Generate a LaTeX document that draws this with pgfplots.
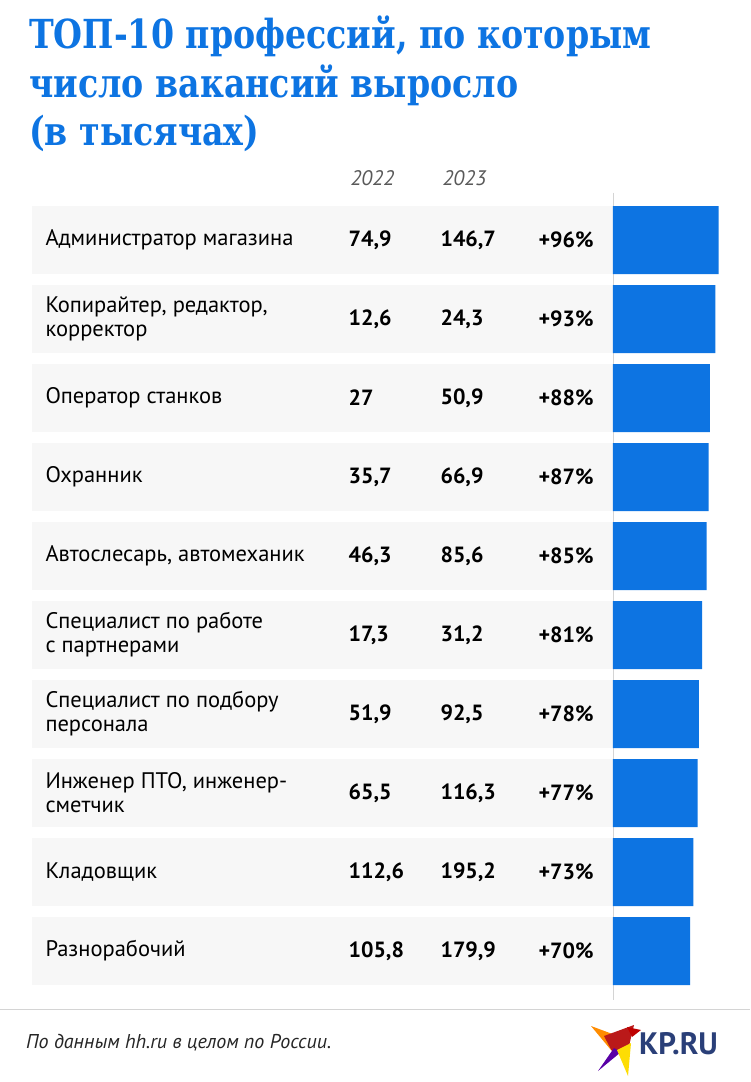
\documentclass[border=0pt]{standalone}
\usepackage{fontspec}
\setmainfont{PT Sans}
\newfontfamily\titlefont[FakeStretch=0.83,UprightFont={DejaVu Serif Bold},BoldFont={DejaVu Serif Bold}]{DejaVu Serif}
\usepackage{pgfplots}
\pgfplotsset{compat=1.18}
\definecolor{kpblue}{HTML}{0D74E2}
\definecolor{rowgray}{HTML}{F7F7F7}
\definecolor{kpnavy}{HTML}{2A3F78}
\definecolor{linegray}{HTML}{D4D4D4}
\begin{document}
\begin{tikzpicture}
\path[use as bounding box, fill=white] (0pt,0pt) rectangle (750pt,-1082pt);
\begin{scope}[x=1pt,y=-1pt]
% title
\node[anchor=north west, align=left, inner sep=0pt, text=kpblue,
      font=\titlefont\fontsize{40}{48.5}\selectfont] at (29,16)
  {ТОП-10 профессий, по которым\\число вакансий выросло\\(в тысячах)};
% footer
\draw[linegray, line width=0.8pt] (0,1009) -- (750,1009);
\node[anchor=west, inner sep=0pt, text=black!85,
      font=\itshape\fontsize{20}{22}\selectfont] at (26,1043)
  {По данным hh.ru в целом по России.};
% logo
\fill[orange!90!yellow] (591,1026) -- (626,1039) -- (611,1050) -- cycle;
\fill[red!70!black!90] (604,1036) -- (634,1025) -- (629,1046) -- (614,1055) -- cycle;
\fill[red!75!black] (627,1027) -- (641,1030) -- (632,1037) -- cycle;
\fill[violet!70!blue] (614,1048) -- (598,1071) -- (621,1052) -- cycle;
\fill[yellow!80!orange] (617,1050) -- (631,1043) -- (628,1076) -- cycle;
\node[anchor=west, inner sep=0pt, text=kpnavy,
      font=\bfseries\fontsize{31}{32}\selectfont] at (639,1044) {KP.RU};
\end{scope}
\begin{axis}[
  at={(613pt,-990.5pt)}, anchor=south west,
  scale only axis, width=137.5pt, height=790pt,
  xmin=0, xmax=125, ymin=0.5, ymax=10.5, y dir=reverse,
  hide axis, clip=false,
  xbar, bar width=68pt,
  every node/.style={inner sep=0pt},
]
\pgfplotsinvokeforeach{1,...,10}{
  \fill[rowgray] (axis cs:-528.2,#1-0.4304) rectangle (axis cs:0,#1+0.4304);
}
\draw[linegray, line width=0.8pt] (axis cs:0,0.40) -- (axis cs:0,10.62);
\addplot[fill=kpblue, draw=none] coordinates {
  (96,1) (93,2) (88,3) (87,4) (85,5) (81,6) (78,7) (77,8) (73,9) (70,10)
};
% header
\node[anchor=west, text=black!65, font=\itshape\fontsize{21}{22}\selectfont] at (axis cs:-241.8,0.215) {2022};
\node[anchor=west, text=black!65, font=\itshape\fontsize{21}{22}\selectfont] at (axis cs:-158.2,0.215) {2023};
% labels
\tikzset{lab/.style={anchor=west, align=left, text=black, font=\fontsize{22.5}{24}\selectfont},
         num/.style={anchor=west, text=black, font=\bfseries\fontsize{22}{24}\selectfont}}
\node[lab] at (axis cs:-519.1,1) {Администратор магазина};
\node[lab] at (axis cs:-519.1,2) {Копирайтер, редактор,\\корректор};
\node[lab] at (axis cs:-519.1,3) {Оператор станков};
\node[lab] at (axis cs:-519.1,4) {Охранник};
\node[lab] at (axis cs:-519.1,5) {Автослесарь, автомеханик};
\node[lab] at (axis cs:-519.1,6) {Специалист по работе\\с партнерами};
\node[lab] at (axis cs:-519.1,7) {Специалист по подбору\\персонала};
\node[lab] at (axis cs:-519.1,8) {Инженер ПТО, инженер-\\сметчик};
\node[lab] at (axis cs:-519.1,9) {Кладовщик};
\node[lab] at (axis cs:-519.1,10) {Разнорабочий};
% 2022
\node[num] at (axis cs:-243.6,1) {74,9};
\node[num] at (axis cs:-243.6,2) {12,6};
\node[num] at (axis cs:-243.6,3) {27};
\node[num] at (axis cs:-243.6,4) {35,7};
\node[num] at (axis cs:-243.6,5) {46,3};
\node[num] at (axis cs:-243.6,6) {17,3};
\node[num] at (axis cs:-243.6,7) {51,9};
\node[num] at (axis cs:-243.6,8) {65,5};
\node[num] at (axis cs:-243.6,9) {112,6};
\node[num] at (axis cs:-243.6,10) {105,8};
% 2023
\node[num] at (axis cs:-160.0,1) {146,7};
\node[num] at (axis cs:-160.0,2) {24,3};
\node[num] at (axis cs:-160.0,3) {50,9};
\node[num] at (axis cs:-160.0,4) {66,9};
\node[num] at (axis cs:-160.0,5) {85,6};
\node[num] at (axis cs:-160.0,6) {31,2};
\node[num] at (axis cs:-160.0,7) {92,5};
\node[num] at (axis cs:-160.0,8) {116,3};
\node[num] at (axis cs:-160.0,9) {195,2};
\node[num] at (axis cs:-160.0,10) {179,9};
% pct
\node[num] at (axis cs:-70.9,1) {+96\%};
\node[num] at (axis cs:-70.9,2) {+93\%};
\node[num] at (axis cs:-70.9,3) {+88\%};
\node[num] at (axis cs:-70.9,4) {+87\%};
\node[num] at (axis cs:-70.9,5) {+85\%};
\node[num] at (axis cs:-70.9,6) {+81\%};
\node[num] at (axis cs:-70.9,7) {+78\%};
\node[num] at (axis cs:-70.9,8) {+77\%};
\node[num] at (axis cs:-70.9,9) {+73\%};
\node[num] at (axis cs:-70.9,10) {+70\%};
\end{axis}
\end{tikzpicture}
\end{document}
